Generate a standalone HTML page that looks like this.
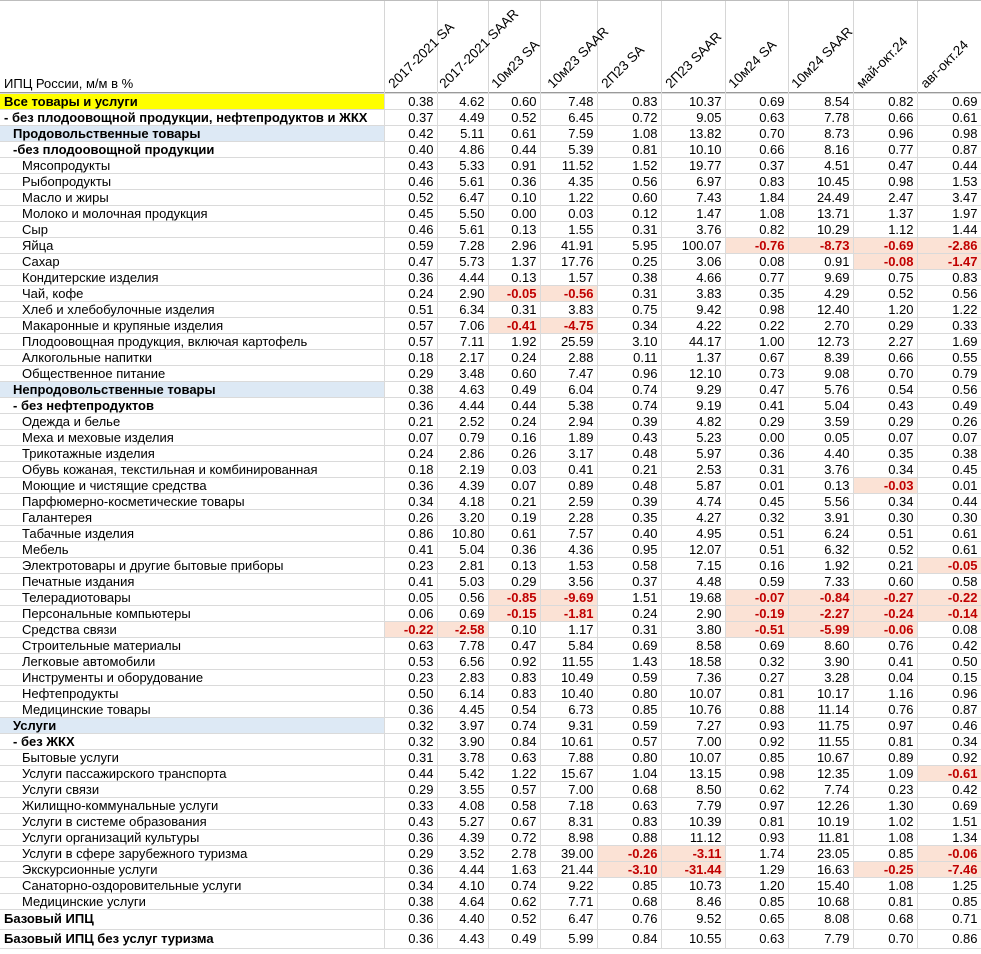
<!DOCTYPE html>
<html><head><meta charset="utf-8"><style>
*{margin:0;padding:0;box-sizing:border-box}
body{width:981px;height:954px;background:#fff;font-family:"Liberation Sans",sans-serif;font-size:13px;color:#000;position:relative;overflow:hidden}
.hdr{position:absolute;left:0;top:0;width:981px;height:93px;border-top:1px solid #bdbdbd;border-bottom:1px solid #9a9a9a}
.vl{position:absolute;top:0;height:93px;border-left:1px solid #d6d6d6}
.h{position:absolute;white-space:nowrap;transform-origin:0 100%;transform:rotate(-45deg);font-size:13.5px;line-height:14px}
.t0{position:absolute;left:4px;top:75px;font-size:13px}
table{position:absolute;left:0;top:93px;border-collapse:collapse;table-layout:fixed;width:981px}
td{height:16px;padding:0 3px 0 0;text-align:right;border:1px solid #dadada;white-space:nowrap;overflow:hidden;line-height:14px}
td:first-child{text-align:left;padding-left:22px;border-left:none;border-right:1px solid #dadada}
tr td:not(:first-child){border-left:1px solid #dadada}
.b td:first-child{font-weight:bold}
.l1 td:first-child{padding-left:13px}
.l0 td:first-child{padding-left:4px}
.y td:first-child{background:#ffff00}
.bl td:first-child{background:#dde9f5}
td.r{background:#fbe2d5;color:#c00000;font-weight:bold}
tr.big td{height:19.5px}
</style></head><body>
<div class="hdr">
<div class="vl" style="left:384px"></div><div class="vl" style="left:437px"></div><div class="vl" style="left:488px"></div><div class="vl" style="left:540px"></div><div class="vl" style="left:597px"></div><div class="vl" style="left:661px"></div><div class="vl" style="left:725px"></div><div class="vl" style="left:788px"></div><div class="vl" style="left:853px"></div><div class="vl" style="left:917px"></div>
<div class="t0">ИПЦ России, м/м в %</div>
<span class="h" style="left:396px;top:76px">2017-2021 SA</span>
<span class="h" style="left:447px;top:76px">2017-2021 SAAR</span>
<span class="h" style="left:499px;top:76px">10м23 SA</span>
<span class="h" style="left:555px;top:76px">10м23 SAAR</span>
<span class="h" style="left:609px;top:76px">2П23 SA</span>
<span class="h" style="left:673px;top:76px">2П23 SAAR</span>
<span class="h" style="left:736px;top:76px">10м24 SA</span>
<span class="h" style="left:799px;top:76px">10м24 SAAR</span>
<span class="h" style="left:864px;top:76px">май-окт.24</span>
<span class="h" style="left:928px;top:76px">авг-окт.24</span>
</div>
<table>
<colgroup><col style="width:384px"><col style="width:53px"><col style="width:51px"><col style="width:52px"><col style="width:57px"><col style="width:64px"><col style="width:64px"><col style="width:63px"><col style="width:65px"><col style="width:64px"><col style="width:64px"></colgroup>
<tr class="b l0 y"><td>Все товары и услуги</td><td>0.38</td><td>4.62</td><td>0.60</td><td>7.48</td><td>0.83</td><td>10.37</td><td>0.69</td><td>8.54</td><td>0.82</td><td>0.69</td></tr>
<tr class="b l0"><td>- без плодоовощной продукции, нефтепродуктов и ЖКХ</td><td>0.37</td><td>4.49</td><td>0.52</td><td>6.45</td><td>0.72</td><td>9.05</td><td>0.63</td><td>7.78</td><td>0.66</td><td>0.61</td></tr>
<tr class="b l1 bl"><td>Продовольственные товары</td><td>0.42</td><td>5.11</td><td>0.61</td><td>7.59</td><td>1.08</td><td>13.82</td><td>0.70</td><td>8.73</td><td>0.96</td><td>0.98</td></tr>
<tr class="b l1"><td>-без плодоовощной продукции</td><td>0.40</td><td>4.86</td><td>0.44</td><td>5.39</td><td>0.81</td><td>10.10</td><td>0.66</td><td>8.16</td><td>0.77</td><td>0.87</td></tr>
<tr><td>Мясопродукты</td><td>0.43</td><td>5.33</td><td>0.91</td><td>11.52</td><td>1.52</td><td>19.77</td><td>0.37</td><td>4.51</td><td>0.47</td><td>0.44</td></tr>
<tr><td>Рыбопродукты</td><td>0.46</td><td>5.61</td><td>0.36</td><td>4.35</td><td>0.56</td><td>6.97</td><td>0.83</td><td>10.45</td><td>0.98</td><td>1.53</td></tr>
<tr><td>Масло и жиры</td><td>0.52</td><td>6.47</td><td>0.10</td><td>1.22</td><td>0.60</td><td>7.43</td><td>1.84</td><td>24.49</td><td>2.47</td><td>3.47</td></tr>
<tr><td>Молоко и молочная продукция</td><td>0.45</td><td>5.50</td><td>0.00</td><td>0.03</td><td>0.12</td><td>1.47</td><td>1.08</td><td>13.71</td><td>1.37</td><td>1.97</td></tr>
<tr><td>Сыр</td><td>0.46</td><td>5.61</td><td>0.13</td><td>1.55</td><td>0.31</td><td>3.76</td><td>0.82</td><td>10.29</td><td>1.12</td><td>1.44</td></tr>
<tr><td>Яйца</td><td>0.59</td><td>7.28</td><td>2.96</td><td>41.91</td><td>5.95</td><td>100.07</td><td class="r">-0.76</td><td class="r">-8.73</td><td class="r">-0.69</td><td class="r">-2.86</td></tr>
<tr><td>Сахар</td><td>0.47</td><td>5.73</td><td>1.37</td><td>17.76</td><td>0.25</td><td>3.06</td><td>0.08</td><td>0.91</td><td class="r">-0.08</td><td class="r">-1.47</td></tr>
<tr><td>Кондитерские изделия</td><td>0.36</td><td>4.44</td><td>0.13</td><td>1.57</td><td>0.38</td><td>4.66</td><td>0.77</td><td>9.69</td><td>0.75</td><td>0.83</td></tr>
<tr><td>Чай, кофе</td><td>0.24</td><td>2.90</td><td class="r">-0.05</td><td class="r">-0.56</td><td>0.31</td><td>3.83</td><td>0.35</td><td>4.29</td><td>0.52</td><td>0.56</td></tr>
<tr><td>Хлеб и хлебобулочные изделия</td><td>0.51</td><td>6.34</td><td>0.31</td><td>3.83</td><td>0.75</td><td>9.42</td><td>0.98</td><td>12.40</td><td>1.20</td><td>1.22</td></tr>
<tr><td>Макаронные и крупяные изделия</td><td>0.57</td><td>7.06</td><td class="r">-0.41</td><td class="r">-4.75</td><td>0.34</td><td>4.22</td><td>0.22</td><td>2.70</td><td>0.29</td><td>0.33</td></tr>
<tr><td>Плодоовощная продукция, включая картофель</td><td>0.57</td><td>7.11</td><td>1.92</td><td>25.59</td><td>3.10</td><td>44.17</td><td>1.00</td><td>12.73</td><td>2.27</td><td>1.69</td></tr>
<tr><td>Алкогольные напитки</td><td>0.18</td><td>2.17</td><td>0.24</td><td>2.88</td><td>0.11</td><td>1.37</td><td>0.67</td><td>8.39</td><td>0.66</td><td>0.55</td></tr>
<tr><td>Общественное питание</td><td>0.29</td><td>3.48</td><td>0.60</td><td>7.47</td><td>0.96</td><td>12.10</td><td>0.73</td><td>9.08</td><td>0.70</td><td>0.79</td></tr>
<tr class="b l1 bl"><td>Непродовольственные товары</td><td>0.38</td><td>4.63</td><td>0.49</td><td>6.04</td><td>0.74</td><td>9.29</td><td>0.47</td><td>5.76</td><td>0.54</td><td>0.56</td></tr>
<tr class="b l1"><td>- без нефтепродуктов</td><td>0.36</td><td>4.44</td><td>0.44</td><td>5.38</td><td>0.74</td><td>9.19</td><td>0.41</td><td>5.04</td><td>0.43</td><td>0.49</td></tr>
<tr><td>Одежда и белье</td><td>0.21</td><td>2.52</td><td>0.24</td><td>2.94</td><td>0.39</td><td>4.82</td><td>0.29</td><td>3.59</td><td>0.29</td><td>0.26</td></tr>
<tr><td>Меха и меховые изделия</td><td>0.07</td><td>0.79</td><td>0.16</td><td>1.89</td><td>0.43</td><td>5.23</td><td>0.00</td><td>0.05</td><td>0.07</td><td>0.07</td></tr>
<tr><td>Трикотажные изделия</td><td>0.24</td><td>2.86</td><td>0.26</td><td>3.17</td><td>0.48</td><td>5.97</td><td>0.36</td><td>4.40</td><td>0.35</td><td>0.38</td></tr>
<tr><td>Обувь кожаная, текстильная и комбинированная</td><td>0.18</td><td>2.19</td><td>0.03</td><td>0.41</td><td>0.21</td><td>2.53</td><td>0.31</td><td>3.76</td><td>0.34</td><td>0.45</td></tr>
<tr><td>Моющие и чистящие средства</td><td>0.36</td><td>4.39</td><td>0.07</td><td>0.89</td><td>0.48</td><td>5.87</td><td>0.01</td><td>0.13</td><td class="r">-0.03</td><td>0.01</td></tr>
<tr><td>Парфюмерно-косметические товары</td><td>0.34</td><td>4.18</td><td>0.21</td><td>2.59</td><td>0.39</td><td>4.74</td><td>0.45</td><td>5.56</td><td>0.34</td><td>0.44</td></tr>
<tr><td>Галантерея</td><td>0.26</td><td>3.20</td><td>0.19</td><td>2.28</td><td>0.35</td><td>4.27</td><td>0.32</td><td>3.91</td><td>0.30</td><td>0.30</td></tr>
<tr><td>Табачные изделия</td><td>0.86</td><td>10.80</td><td>0.61</td><td>7.57</td><td>0.40</td><td>4.95</td><td>0.51</td><td>6.24</td><td>0.51</td><td>0.61</td></tr>
<tr><td>Мебель</td><td>0.41</td><td>5.04</td><td>0.36</td><td>4.36</td><td>0.95</td><td>12.07</td><td>0.51</td><td>6.32</td><td>0.52</td><td>0.61</td></tr>
<tr><td>Электротовары и другие бытовые приборы</td><td>0.23</td><td>2.81</td><td>0.13</td><td>1.53</td><td>0.58</td><td>7.15</td><td>0.16</td><td>1.92</td><td>0.21</td><td class="r">-0.05</td></tr>
<tr><td>Печатные издания</td><td>0.41</td><td>5.03</td><td>0.29</td><td>3.56</td><td>0.37</td><td>4.48</td><td>0.59</td><td>7.33</td><td>0.60</td><td>0.58</td></tr>
<tr><td>Телерадиотовары</td><td>0.05</td><td>0.56</td><td class="r">-0.85</td><td class="r">-9.69</td><td>1.51</td><td>19.68</td><td class="r">-0.07</td><td class="r">-0.84</td><td class="r">-0.27</td><td class="r">-0.22</td></tr>
<tr><td>Персональные компьютеры</td><td>0.06</td><td>0.69</td><td class="r">-0.15</td><td class="r">-1.81</td><td>0.24</td><td>2.90</td><td class="r">-0.19</td><td class="r">-2.27</td><td class="r">-0.24</td><td class="r">-0.14</td></tr>
<tr><td>Средства связи</td><td class="r">-0.22</td><td class="r">-2.58</td><td>0.10</td><td>1.17</td><td>0.31</td><td>3.80</td><td class="r">-0.51</td><td class="r">-5.99</td><td class="r">-0.06</td><td>0.08</td></tr>
<tr><td>Строительные материалы</td><td>0.63</td><td>7.78</td><td>0.47</td><td>5.84</td><td>0.69</td><td>8.58</td><td>0.69</td><td>8.60</td><td>0.76</td><td>0.42</td></tr>
<tr><td>Легковые автомобили</td><td>0.53</td><td>6.56</td><td>0.92</td><td>11.55</td><td>1.43</td><td>18.58</td><td>0.32</td><td>3.90</td><td>0.41</td><td>0.50</td></tr>
<tr><td>Инструменты и оборудование</td><td>0.23</td><td>2.83</td><td>0.83</td><td>10.49</td><td>0.59</td><td>7.36</td><td>0.27</td><td>3.28</td><td>0.04</td><td>0.15</td></tr>
<tr><td>Нефтепродукты</td><td>0.50</td><td>6.14</td><td>0.83</td><td>10.40</td><td>0.80</td><td>10.07</td><td>0.81</td><td>10.17</td><td>1.16</td><td>0.96</td></tr>
<tr><td>Медицинские товары</td><td>0.36</td><td>4.45</td><td>0.54</td><td>6.73</td><td>0.85</td><td>10.76</td><td>0.88</td><td>11.14</td><td>0.76</td><td>0.87</td></tr>
<tr class="b l1 bl"><td>Услуги</td><td>0.32</td><td>3.97</td><td>0.74</td><td>9.31</td><td>0.59</td><td>7.27</td><td>0.93</td><td>11.75</td><td>0.97</td><td>0.46</td></tr>
<tr class="b l1"><td>- без ЖКХ</td><td>0.32</td><td>3.90</td><td>0.84</td><td>10.61</td><td>0.57</td><td>7.00</td><td>0.92</td><td>11.55</td><td>0.81</td><td>0.34</td></tr>
<tr><td>Бытовые услуги</td><td>0.31</td><td>3.78</td><td>0.63</td><td>7.88</td><td>0.80</td><td>10.07</td><td>0.85</td><td>10.67</td><td>0.89</td><td>0.92</td></tr>
<tr><td>Услуги пассажирского транспорта</td><td>0.44</td><td>5.42</td><td>1.22</td><td>15.67</td><td>1.04</td><td>13.15</td><td>0.98</td><td>12.35</td><td>1.09</td><td class="r">-0.61</td></tr>
<tr><td>Услуги связи</td><td>0.29</td><td>3.55</td><td>0.57</td><td>7.00</td><td>0.68</td><td>8.50</td><td>0.62</td><td>7.74</td><td>0.23</td><td>0.42</td></tr>
<tr><td>Жилищно-коммунальные услуги</td><td>0.33</td><td>4.08</td><td>0.58</td><td>7.18</td><td>0.63</td><td>7.79</td><td>0.97</td><td>12.26</td><td>1.30</td><td>0.69</td></tr>
<tr><td>Услуги в системе образования</td><td>0.43</td><td>5.27</td><td>0.67</td><td>8.31</td><td>0.83</td><td>10.39</td><td>0.81</td><td>10.19</td><td>1.02</td><td>1.51</td></tr>
<tr><td>Услуги организаций культуры</td><td>0.36</td><td>4.39</td><td>0.72</td><td>8.98</td><td>0.88</td><td>11.12</td><td>0.93</td><td>11.81</td><td>1.08</td><td>1.34</td></tr>
<tr><td>Услуги в сфере зарубежного туризма</td><td>0.29</td><td>3.52</td><td>2.78</td><td>39.00</td><td class="r">-0.26</td><td class="r">-3.11</td><td>1.74</td><td>23.05</td><td>0.85</td><td class="r">-0.06</td></tr>
<tr><td>Экскурсионные услуги</td><td>0.36</td><td>4.44</td><td>1.63</td><td>21.44</td><td class="r">-3.10</td><td class="r">-31.44</td><td>1.29</td><td>16.63</td><td class="r">-0.25</td><td class="r">-7.46</td></tr>
<tr><td>Санаторно-оздоровительные услуги</td><td>0.34</td><td>4.10</td><td>0.74</td><td>9.22</td><td>0.85</td><td>10.73</td><td>1.20</td><td>15.40</td><td>1.08</td><td>1.25</td></tr>
<tr><td>Медицинские услуги</td><td>0.38</td><td>4.64</td><td>0.62</td><td>7.71</td><td>0.68</td><td>8.46</td><td>0.85</td><td>10.68</td><td>0.81</td><td>0.85</td></tr>
<tr class="b l0 big"><td>Базовый ИПЦ</td><td>0.36</td><td>4.40</td><td>0.52</td><td>6.47</td><td>0.76</td><td>9.52</td><td>0.65</td><td>8.08</td><td>0.68</td><td>0.71</td></tr>
<tr class="b l0 big"><td>Базовый ИПЦ без услуг туризма</td><td>0.36</td><td>4.43</td><td>0.49</td><td>5.99</td><td>0.84</td><td>10.55</td><td>0.63</td><td>7.79</td><td>0.70</td><td>0.86</td></tr>
</table>
</body></html>
